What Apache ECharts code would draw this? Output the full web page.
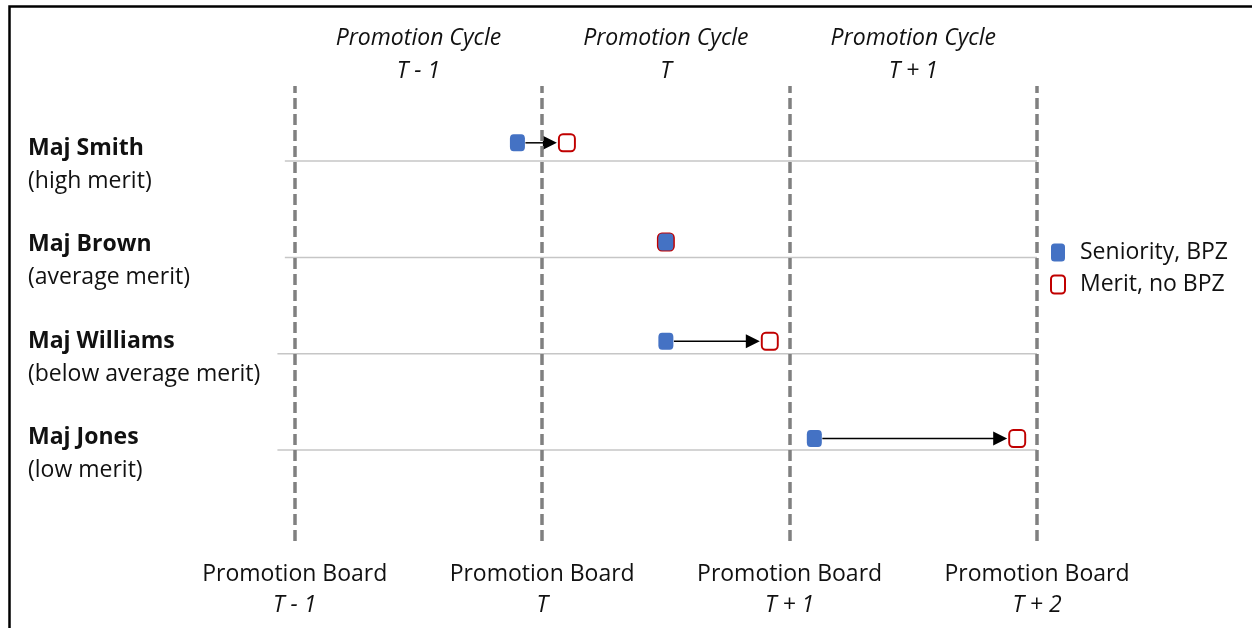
<!DOCTYPE html>
<html>
<head>
<meta charset="utf-8">
<script src="https://cdn.jsdelivr.net/npm/echarts@6/dist/echarts.min.js"></script>
<style>
  html, body { margin: 0; padding: 0; background: #fff; }
  #chart { width: 1252px; height: 628px; }
</style>
</head>
<body>
<div id="chart"></div>
<script>
// officers, one row each (top to bottom)
var people = ['Maj Smith', 'Maj Brown', 'Maj Williams', 'Maj Jones'];
var merits = ['(high merit)', '(average merit)', '(below average merit)', '(low merit)'];
var rowY = [4, 3, 2, 1];
// where each marker sits (x in promotion-board units, T-1 = 0)
var seniorityX = [0.90, 1.50, 1.50, 2.10];
var meritX = [1.10, 1.50, 1.92, 2.92];
var markerY = [4.19, 3.16, 2.13, 1.12];
// row guide lines start a bit left of the first board
var rowLineStart = [-0.04, -0.04, -0.07, -0.07];
var rowLineEnd = [3, 3, 3, 3];
// axis texts
var boardValues = [0, 1, 2, 3];
var boards = ['T - 1', 'T', 'T + 1', 'T + 2'];
var cycleValues = [0.5, 1.5, 2.5];
var cycles = ['T - 1', 'T', 'T + 1'];

var FONT = 'Open Sans';
var FS = 23;
var BLUE = '#4472C4';
var RED = '#C00000';
var INK = '#111';

var seniorityData = seniorityX.map(function(x, i) { return [x, markerY[i]]; });
var meritData = meritX.map(function(x, i) { return [x, markerY[i]]; });
var rowLineData = rowY.map(function(y, i) { return [rowLineStart[i], rowLineEnd[i], y]; });
var arrowData = [];
for (var i = 0; i < people.length; i++) {
    if (meritX[i] !== seniorityX[i]) {
        arrowData.push([seniorityX[i], meritX[i], markerY[i]]);
    }
}

var myChart = echarts.init(document.getElementById('chart'), null, { renderer: 'canvas' });

var option = {
    animation: false,
    backgroundColor: '#fff',
    textStyle: { fontFamily: FONT },
    grid: { left: 270, right: 215, top: 86, bottom: 87 },
    xAxis: [{
        type: 'value',
        min: -0.1,
        max: 3,
        position: 'bottom',
        axisLine: { show: false },
        axisTick: { show: false },
        splitLine: { show: false },
        axisLabel: {
            customValues: boardValues,
            margin: 18,
            formatter: function(v) {
                return '{b|Promotion Board}\n{t|' + boards[boardValues.indexOf(v)] + '}';
            },
            rich: {
                b: { fontFamily: FONT, fontSize: FS, color: INK, lineHeight: 31, align: 'center' },
                t: { fontFamily: FONT, fontSize: FS, fontStyle: 'italic', color: INK, lineHeight: 31, align: 'center' }
            }
        }
    }, {
        type: 'value',
        min: -0.1,
        max: 3,
        position: 'top',
        axisLine: { show: false },
        axisTick: { show: false },
        splitLine: { show: false },
        axisLabel: {
            customValues: cycleValues,
            margin: -2,
            formatter: function(v) {
                return '{c|Promotion Cycle}\n{c|' + cycles[cycleValues.indexOf(v)] + '}';
            },
            rich: {
                c: { fontFamily: FONT, fontSize: FS, fontStyle: 'italic', color: INK, lineHeight: 33, align: 'center' }
            }
        }
    }],
    yAxis: {
        type: 'value',
        min: 0.055,
        max: 4.78,
        axisLine: { show: false },
        axisTick: { show: false },
        splitLine: { show: false },
        axisLabel: {
            customValues: rowY,
            margin: 242,
            align: 'left',
            padding: [8, 0, 0, 0],
            formatter: function(v) {
                var i = rowY.indexOf(v);
                return '{n|' + people[i] + '}\n{m|' + merits[i] + '}';
            },
            rich: {
                n: { fontFamily: FONT, fontSize: FS, fontWeight: 'bold', color: INK, lineHeight: 33 },
                m: { fontFamily: FONT, fontSize: FS, color: INK, lineHeight: 33 }
            }
        }
    },
    legend: {
        orient: 'vertical',
        left: 1050,
        top: 241,
        padding: 0,
        itemWidth: 14,
        itemHeight: 18,
        itemGap: 9,
        textStyle: { fontFamily: FONT, fontSize: FS, color: INK, padding: [0, 0, 0, 10] },
        data: [
            { name: 'Seniority, BPZ', icon: 'roundRect', itemStyle: { color: BLUE, borderWidth: 0 } },
            { name: 'Merit, no BPZ', icon: 'roundRect', itemStyle: { color: '#fff', borderColor: RED, borderWidth: 2 } }
        ]
    },
    series: [{
        name: 'rows',
        type: 'custom',
        silent: true,
        z: 1,
        clip: false,
        data: rowLineData,
        renderItem: function(params, api) {
            var a = api.coord([api.value(0), api.value(2)]);
            var b = api.coord([api.value(1), api.value(2)]);
            return {
                type: 'line',
                shape: { x1: a[0], y1: a[1], x2: b[0], y2: b[1] },
                style: { stroke: '#c6c6c6', lineWidth: 1.5 }
            };
        },
        markLine: {
            silent: true,
            symbol: 'none',
            label: { show: false },
            lineStyle: { color: '#808080', width: 3.5, type: [11, 5] },
            data: boardValues.map(function(v) { return { xAxis: v }; })
        }
    }, {
        name: 'arrows',
        type: 'custom',
        silent: true,
        z: 3,
        data: arrowData,
        renderItem: function(params, api) {
            var a = api.coord([api.value(0), api.value(2)]);
            var b = api.coord([api.value(1), api.value(2)]);
            var x1 = a[0] + 8;
            var x2 = b[0] - 10;
            var y = a[1];
            return {
                type: 'group',
                children: [{
                    type: 'line',
                    shape: { x1: x1, y1: y, x2: x2 - 12, y2: y },
                    style: { stroke: '#000', lineWidth: 1.5 }
                }, {
                    type: 'polygon',
                    shape: { points: [[x2 - 14, y - 7], [x2, y], [x2 - 14, y + 7]] },
                    style: { fill: '#000' }
                }]
            };
        }
    }, {
        name: 'Merit, no BPZ',
        type: 'scatter',
        z: 4,
        symbol: 'roundRect',
        symbolSize: [16, 17],
        itemStyle: { color: '#fff', borderColor: RED, borderWidth: 2, opacity: 1 },
        data: meritData
    }, {
        name: 'Seniority, BPZ',
        type: 'scatter',
        z: 5,
        symbol: 'roundRect',
        symbolSize: [15, 17],
        itemStyle: { color: BLUE, opacity: 1 },
        data: seniorityData
    }],
    graphic: [{
        type: 'polyline',
        silent: true,
        shape: { points: [[9.5, 628], [9.5, 6.5], [1252, 6.5]] },
        style: { stroke: '#000', lineWidth: 2.5, fill: null }
    }]
};

myChart.setOption(option);
</script>
</body>
</html>
